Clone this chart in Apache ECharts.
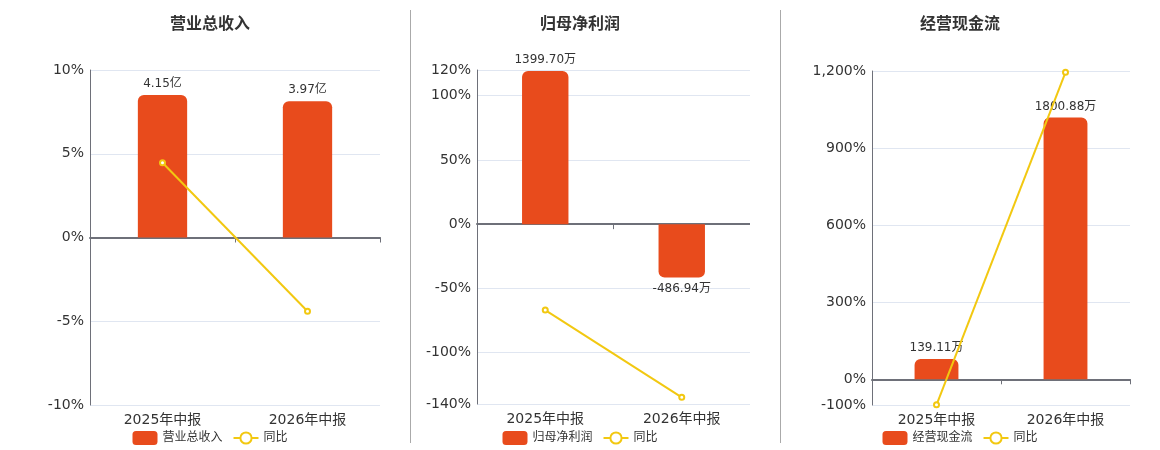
<!DOCTYPE html>
<html lang="zh">
<head>
    <meta charset="UTF-8">
    <title>营业总收入 / 归母净利润 / 经营现金流</title>
    <style>
        html, body {
            margin: 0;
            padding: 0;
            background: #fff;
        }
        #wrap {
            position: relative;
            width: 1160px;
            height: 450px;
        }
        .box {
            position: absolute;
            top: 0;
            height: 450px;
        }
        .sep {
            position: absolute;
            top: 10px;
            width: 1px;
            height: 433px;
            background: #aaa;
        }
    </style>
    <script type="text/javascript" src="https://cdn.jsdelivr.net/npm/echarts@6/dist/echarts.min.js"></script>
</head>
<body>
<div id="wrap">
    <div id="c1" class="box" style="left:0;width:420px"></div>
    <div id="c2" class="box" style="left:410px;width:340px"></div>
    <div id="c3" class="box" style="left:780px;width:360px"></div>
    <div class="sep" style="left:410px"></div>
    <div class="sep" style="left:780px"></div>
</div>
<script type="text/javascript">
    var categories = ['2025年中报', '2026年中报'];

    var revenue = [4.15, 3.97];
    var revenueYoy = [4.46, -4.40];

    var profit = [1399.70, -486.94];
    var profitYoy = [-66.9, -134.8];

    var cashFlow = [139.11, 1800.88];
    var cashFlowYoy = [-99.2, 1195];

    var FONT = '"DejaVu Sans", "Noto Sans CJK SC", sans-serif';
    var BAR_COLOR = '#e84b1c';
    var LINE_COLOR = '#f2c811';

    function makeChart(id, cfg) {
        var chart = echarts.init(document.getElementById(id));
        // negative bars: label under the bar, rounded corners at the far end
        var barData = cfg.bars.map(function (v) {
            return {
                value: v,
                label: {position: v < 0 ? 'bottom' : 'top'},
                itemStyle: {borderRadius: v < 0 ? [0, 0, 6, 6] : [6, 6, 0, 0]}
            };
        });
        var pctAxis = {
            type: 'value',
            min: cfg.min,
            max: cfg.max,
            axisLine: {show: true, lineStyle: {color: '#6e7079'}},
            axisTick: {show: false},
            splitLine: {lineStyle: {color: '#e0e6f1'}},
            axisLabel: {
                color: '#333',
                fontSize: 14,
                fontFamily: FONT,
                margin: 6,
                formatter: function (v) {
                    return v.toLocaleString('en-US') + '%';
                }
            }
        };
        if (cfg.interval) pctAxis.interval = cfg.interval;

        chart.setOption({
            textStyle: {fontFamily: FONT},
            title: {
                text: cfg.title,
                left: 'center',
                top: 12,
                textStyle: {fontSize: 16, fontWeight: 'bold', color: '#333', fontFamily: FONT}
            },
            legend: {
                top: 426,
                left: 'center',
                itemGap: 10,
                textStyle: {fontSize: 12, color: '#333', fontFamily: FONT},
                data: [{name: cfg.title, icon: 'roundRect'}, {name: '同比'}]
            },
            grid: cfg.grid,
            xAxis: {
                type: 'category',
                data: categories,
                axisLine: {lineStyle: {color: '#6e7079', width: 2}},
                axisTick: {show: true, length: 5, lineStyle: {color: '#6e7079', width: 1}},
                axisLabel: {color: '#333', fontSize: 14, fontFamily: FONT, margin: 8}
            },
            yAxis: [pctAxis, {
                type: 'value',
                show: false,
                min: cfg.barMin,
                max: cfg.barMax,
                splitLine: {show: false}
            }],
            series: [{
                name: cfg.title,
                type: 'bar',
                yAxisIndex: 1,
                barWidth: '34%',
                data: barData,
                itemStyle: {color: BAR_COLOR},
                label: {
                    show: true,
                    color: '#333',
                    fontSize: 12,
                    fontFamily: FONT,
                    distance: 5,
                    formatter: function (p) {
                        return p.value.toFixed(2) + cfg.unit;
                    }
                }
            }, {
                name: '同比',
                type: 'line',
                yAxisIndex: 0,
                data: cfg.yoy,
                symbol: 'emptyCircle',
                symbolSize: 5,
                lineStyle: {color: LINE_COLOR, width: 2},
                itemStyle: {color: LINE_COLOR},
                z: 5
            }]
        });
    }

    makeChart('c1', {
        title: '营业总收入', unit: '亿',
        bars: revenue, yoy: revenueYoy,
        min: -10, max: 10, interval: 5,
        barMin: -4.88, barMax: 4.88,
        grid: {left: 90, right: 40, top: 70, bottom: 45}
    });
    makeChart('c2', {
        title: '归母净利润', unit: '万',
        bars: profit, yoy: profitYoy,
        min: -140, max: 120,
        barMin: -1644, barMax: 1409,
        grid: {left: 67, right: 0, top: 70, bottom: 46}
    });
    makeChart('c3', {
        title: '经营现金流', unit: '万',
        bars: cashFlow, yoy: cashFlowYoy,
        min: -100, max: 1200,
        barMin: -176.7, barMax: 2120,
        grid: {left: 92, right: 10, top: 71, bottom: 45}
    });
</script>
</body>
</html>
